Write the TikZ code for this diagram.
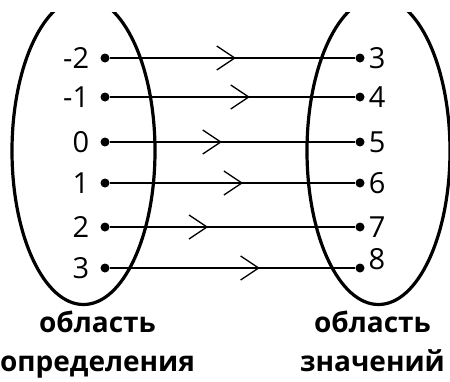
\documentclass[tikz,border=0pt]{standalone}
\usepackage{fontspec}
\setmainfont{Open Sans}
\usetikzlibrary{positioning}
\usetikzlibrary{arrows.meta}
\usetikzlibrary{decorations.markings}
\usetikzlibrary{shapes.geometric}

\begin{document}
\begin{tikzpicture}[x=1pt,y=-1pt,
  pt/.style={circle,fill,inner sep=0pt,minimum size=9pt},
  num/.style={inner sep=0pt,font=\fontsize{29}{29}\selectfont},
  set/.style={ellipse,draw,line width=3.2pt,minimum width=143pt,minimum height=307pt,inner sep=0pt},
  setname/.style={align=center,inner sep=0pt,font=\bfseries\fontsize{28}{39}\selectfont},
  mapsto/.style={line width=1.3pt,postaction={decorate},decoration={markings,mark=at position #1 with {\arrow{Straight Barb[length=18pt,width=24pt]}}}}]
\useasboundingbox (0,0) rectangle (450,381);
\begin{scope}
\clip (0,12) rectangle (450,381);
\node[set] (dom) at (83.5,151) {};
\node[set] (codom) at (378.5,151) {};
\end{scope}
% points of the domain
\node[pt] (a1) at (105,58) {};
\node[pt] (a2) at (105,97) {};
\node[pt] (a3) at (105,142) {};
\node[pt] (a4) at (105,183) {};
\node[pt] (a5) at (105,227) {};
\node[pt] (a6) at (105,268) {};
\node[num,left=11pt of a1] {-2};
\node[num,left=11pt of a2] {-1};
\node[num,left=11pt of a3] {0};
\node[num,left=11pt of a4] {1};
\node[num,left=11pt of a5] {2};
\node[num,left=11pt of a6] {3};
% points of the range
\node[pt] (b1) at (360,58) {};
\node[pt] (b2) at (360,97) {};
\node[pt] (b3) at (360,142) {};
\node[pt] (b4) at (360,183) {};
\node[pt] (b5) at (360,227) {};
\node[pt] (b6) at (360,268) {};
\node[num,right=4pt of b1] {3};
\node[num,right=4pt of b2] {4};
\node[num,right=4pt of b3] {5};
\node[num,right=4pt of b4] {6};
\node[num,right=4pt of b5] {7};
\node[num,above right=-5pt and 5pt of b6] {8};
\draw[mapsto=0.514] (a1) -- (b1);
\draw[mapsto=0.571] (a2) -- (b2);
\draw[mapsto=0.457] (a3) -- (b3);
\draw[mapsto=0.543] (a4) -- (b4);
\draw[mapsto=0.401] (a5) -- (b5);
\draw[mapsto=0.611] (a6) -- (b6);
\node[setname,below=5pt of dom,xshift=14pt] (domname) {область\\определения};
\node[setname,below=5pt of codom,xshift=-6pt] (codomname) {область\\значений};
\end{tikzpicture}
\end{document}
